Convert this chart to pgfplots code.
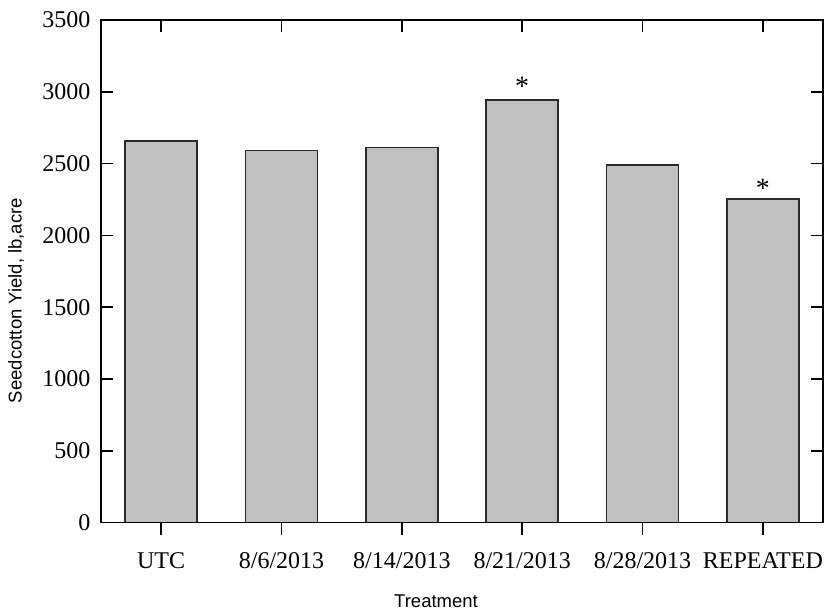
\documentclass[border=0pt]{standalone}
\usepackage{pgfplots}
\pgfplotsset{compat=1.18}
\usepackage{fontspec}
\setmainfont{Liberation Serif}
\newfontfamily\arialfont{Liberation Sans}
\definecolor{barfill}{HTML}{C0C0C0}
\definecolor{baredge}{HTML}{2A2A2A}
\begin{document}
\begin{tikzpicture}[x=1pt,y=1pt]
\useasboundingbox (0,0) rectangle (827,612);
\pgfplotsset{
  common/.style={
    at={(101pt,89.3pt)}, anchor=south west,
    width=722pt, height=502.7pt, scale only axis,
    xmin=-0.5, xmax=5.5, ymin=0, ymax=3500,
    axis line style={line width=1.6pt, black},
    major tick length=12pt,
    every tick/.style={line width=1.6pt, black},
    /pgf/number format/assume math mode=true,
    /pgf/number format/1000 sep={},
  }
}
\begin{axis}[
  common,
  tick align=inside,
  xtick={0,...,5}, xtick pos=top, xticklabels={},
  ytick={0,500,...,3500}, ytick pos=both, yticklabel pos=left,
  yticklabel style={font=\fontsize{24}{28}\selectfont, xshift=-7pt},
  ylabel={\arialfont Seedcotton Yield, lb,acre},
  ylabel style={font=\fontsize{18.5}{22}\selectfont, at={(axis description cs:-0.1177,0.442)}, anchor=center},
]
\addplot[ybar, bar width=0.6, fill=barfill, draw=baredge, line width=1.6pt]
  coordinates {(0,2658) (1,2590) (2,2611) (3,2943) (4,2491) (5,2252)};
\node[font=\fontsize{28}{30}\selectfont] at (axis cs:3,3040) {*};
\node[font=\fontsize{28}{30}\selectfont] at (axis cs:5,2330) {*};
\end{axis}
\begin{axis}[
  common,
  tick align=outside,
  xtick={0,...,5}, xtick pos=bottom,
  xticklabels={UTC,8/6/2013,8/14/2013,8/21/2013,8/28/2013,REPEATED},
  xticklabel style={font=\fontsize{24}{28}\selectfont, yshift=-14pt},
  ytick=\empty,
  xlabel={\arialfont Treatment},
  xlabel style={font=\fontsize{18.5}{22}\selectfont, at={(axis description cs:0.464,-0.156)}, anchor=center},
]
\end{axis}
\end{tikzpicture}
\end{document}
